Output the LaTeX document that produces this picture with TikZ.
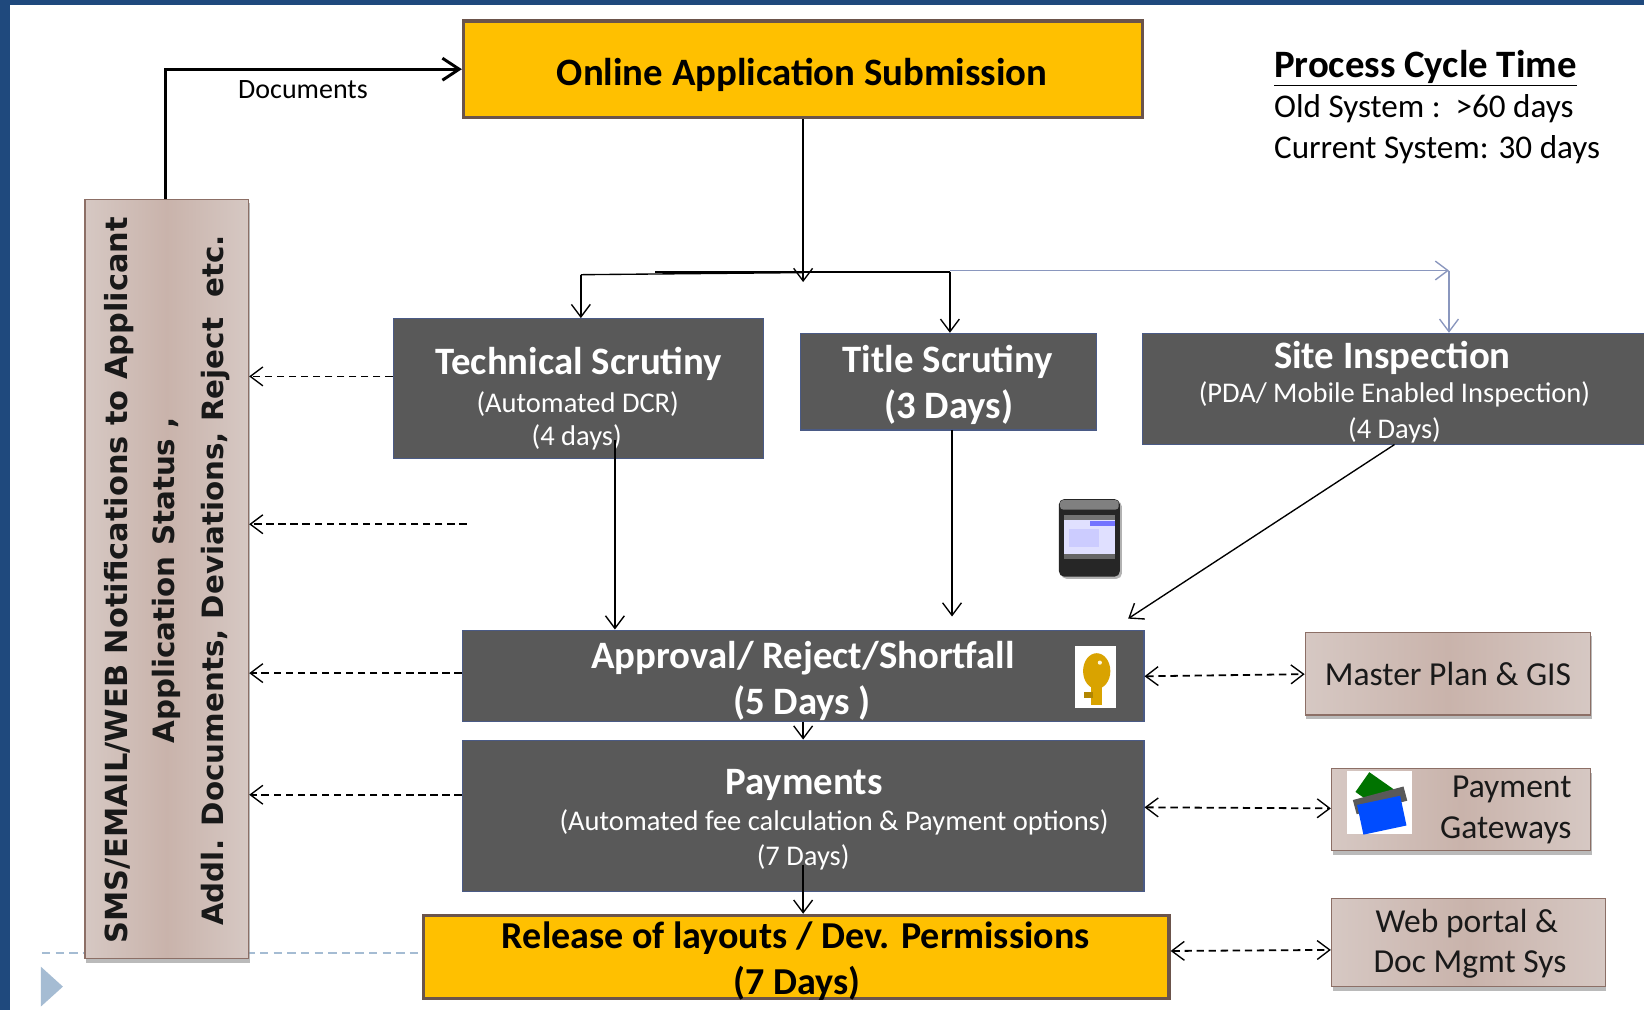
\documentclass[tikz,border=0pt]{standalone}
\usepackage{fontspec}
\setmainfont{Carlito}
\newfontfamily\verd{DejaVu Sans}
\usetikzlibrary{arrows.meta,shadows,calc}
\definecolor{frameblue}{HTML}{1F497D}
\definecolor{gold}{HTML}{FFC000}
\definecolor{goldedge}{HTML}{6B544B}
\definecolor{slate}{HTML}{595959}
\definecolor{slateedge}{HTML}{4A5A85}
\definecolor{tanlight}{HTML}{D6C8C3}
\definecolor{tanmid}{HTML}{C9B3AB}
\definecolor{tanedge}{HTML}{8C6F66}
\definecolor{softblue}{HTML}{8A97BE}
\definecolor{pale}{HTML}{A5BCD3}
\newcommand{\fsz}[1]{\fontsize{#1}{#1}\selectfont}
\tikzset{
  barb/.tip={Straight Barb[length=12pt,width=18pt,line width=1.3pt]},
  goldbox/.style={draw=goldedge,line width=3pt,fill=gold,inner sep=0pt,align=center,text=black},
  slatebox/.style={draw=slateedge,line width=1.2pt,fill=slate,inner sep=0pt,align=center,text=white},
  tanbox/.style={draw=tanedge,line width=1.3pt,left color=tanlight,right color=tanlight,middle color=tanmid,inner sep=0pt,align=center,text=black!90,
     drop shadow={shadow xshift=1pt,shadow yshift=-4pt,fill=black!45,opacity=.6}},
  flow/.style={draw=black,line width=1.3pt,-barb},
  plain/.style={draw=black,line width=1.3pt},
  softflow/.style={draw=softblue,line width=1.5pt,-barb},
  notify/.style={draw=black,line width=1.7pt,dash pattern=on 7pt off 4.5pt,-barb},
  twoway/.style={draw=black,line width=1.7pt,dash pattern=on 7pt off 4.5pt,barb-barb},
  tag/.style={inner sep=0pt,anchor=base west,text=black},
  head/.style={inner sep=0pt,text=white,font=\bfseries\fsz{37}},
  sub/.style={inner sep=0pt,text=white,font=\fsz{27.2}},
  darkhead/.style={inner sep=0pt,text=black,font=\bfseries\fsz{36.3}},
  tantext/.style={inner sep=0pt,text=black!90,font=\fsz{32}},
  side/.style={inner sep=0pt,text=black!90,font=\verd\bfseries\fsz{29},rotate=90,anchor=center},
}
\begin{document}
\begin{tikzpicture}[x=1pt,y=-1pt]
\useasboundingbox (0,0) rectangle (1568,963.3);
% frame
\fill[frameblue] (0,0) rectangle (1568,963.3);
\fill[white] (10,5) rectangle (1568,963.3);
% decorative dashed line and marker
\draw[pale,line width=1.2pt,dash pattern=on 8pt off 5pt] (40,909) -- (404,909);
\fill[pale] (39,922) -- (60,941) -- (39,960) -- cycle;
% boxes
\node[goldbox,minimum width=648pt,minimum height=92pt] (online) at (766,66) {};
\node[inner sep=0pt,text=black,font=\bfseries\fsz{37}] (onlineA) at (765,71) {Online Application Submission};
\node[tanbox,minimum width=156pt,minimum height=724pt] (notices) at (159,552) {};
\node[side] (noticeA) at (114,553.5) {SMS/EMAIL/WEB Notifications to Applicant};
\node[side,font=\verd\bfseries\fsz{28}] (noticeB) at (159,553.5) {Application Status ,};
\node[side,font=\verd\bfseries\fsz{28}] (noticeC) at (206,553.5) {Addl. Documents, Deviations, Reject\ \ etc.};
\node[slatebox,minimum width=353pt,minimum height=133pt] (tech) at (551.5,370.5) {};
\node[head] (techA) at (552,347) {Technical Scrutiny};
\node[sub] (techB) at (551,385) {(Automated DCR)};
\node[sub] (techC) at (550,417) {(4 days)};
\node[slatebox,minimum width=282pt,minimum height=92pt] (title) at (904.5,364) {};
\node[head] (titleA) at (904,345) {Title Scrutiny};
\node[head] (titleB) at (905,388) {(3 Days)};
\node[slatebox,minimum width=480pt,minimum height=106pt,anchor=west] (site) at (1089,371) {};
\node[head] (siteA) at (1328,341) {Site Inspection};
\node[sub] (siteB) at (1330,376) {(PDA/ Mobile Enabled Inspection)};
\node[sub] (siteC) at (1330,410) {(4 Days)};
\node[slatebox,minimum width=650pt,minimum height=87pt] (approval) at (766,644.5) {};
\node[head] (approvalA) at (766,628) {Approval/ Reject/Shortfall};
\node[head] (approvalB) at (765,671) {(5 Days )};
\node[slatebox,minimum width=650pt,minimum height=144pt] (pay) at (766,778) {};
\node[head] (payA) at (767,749) {Payments};
\node[sub] (payB) at (795.5,784) {(Automated fee calculation \& Payment options)};
\node[sub] (payC) at (766,818) {(7 Days)};
\node[goldbox,minimum width=711pt,minimum height=79pt] (release) at (759.5,912.5) {};
\node[darkhead] (releaseA) at (759,895) {Release of layouts / Dev. Permissions};
\node[darkhead] (releaseB) at (760,938) {(7 Days)};
\node[tanbox,minimum width=272pt,minimum height=79pt,font=\fsz{32}] (gis) at (1381,642.5) {Master Plan \& GIS};
\node[tanbox,minimum width=247pt,minimum height=78pt] (gateway) at (1393.5,772) {};
\node[tantext,anchor=east] (gatewayA) at (1499,753) {Payment};
\node[tantext,anchor=east] (gatewayB) at (1499,792) {Gateways};
\node[tanbox,minimum width=261pt,minimum height=84pt] (portal) at (1400.5,899) {};
\node[tantext] (portalA) at (1399,881) {Web portal \&};
\node[tantext] (portalB) at (1402,920) {Doc Mgmt Sys};
% cycle-time text
\node[tag,font=\bfseries\fsz{37}] (cycleA) at (1215,74) {\underline{Process Cycle Time}};
\node[tag,font=\fsz{31.6}] (cycleB) at (1215,112) {Old System :\ \ >60 days};
\node[tag,font=\fsz{31.6}] (cycleC) at (1215,151) {Current System: 30 days};
\node[tag,font=\fsz{26.7}] (docs) at (227,94) {Documents};
% phone
\fill[black!30,rounded corners=5pt] (1012,478) rectangle (1070,552);
\fill[black!85,rounded corners=5pt] (1010,476) rectangle (1068,550);
\fill[black!50,rounded corners=3pt] (1011,477) rectangle (1067,486);
\fill[white!88!blue] (1015,491) rectangle (1063,533);
\fill[blue!55!white] (1040,497) rectangle (1063,502);
\fill[black!55] (1015,491) rectangle (1063,496);
\fill[blue!20!white] (1020,505) rectangle (1048,522);
\fill[black!60] (1015,528) rectangle (1063,533);
% key
\fill[white] (1025,616) rectangle (1064,675);
\fill[gold!85!black] (1046,640) ellipse (13pt and 17pt);
\fill[gold!85!black] (1041,650) rectangle (1051,672);
\fill[gold!70!black] (1034,660) rectangle (1042,666);
\fill[white!85!gold] (1049,632) circle (2pt);
% cards
\fill[white] (1285,735) rectangle (1347,795);
\fill[green!45!black,rotate around={-35:(1315,755)}] (1297,745) rectangle (1333,768);
\fill[black!65,rotate around={15:(1318,766)}] (1292,756) rectangle (1342,770);
\fill[blue!70!cyan,rotate around={12:(1318,778)}] (1297,763) rectangle (1339,792);
% connectors
\coordinate (docsUp) at (158,190);
\draw[draw=black,line width=3pt,-{Straight Barb[length=16pt,width=21pt,line width=2.8pt]}] (docsUp) |- (online.west);
\coordinate (busMid) at (766,269);
\coordinate (busHeavy) at (625,259);
\coordinate (busWest) at (554,262);
\coordinate (busEast) at (906,259);
\coordinate (softEnd) at (1382,258);
\draw[flow] (online.south) -- (busMid);
\draw[plain] (busWest) -- (766,260);
\draw[draw=black,line width=2pt] (busHeavy) -- (busEast);
\draw[flow] (busWest) -- (busWest |- tech.north);
\draw[flow] (busEast) -- (busEast |- title.north);
\draw[softflow] (busEast |- softEnd) -- (softEnd);
\draw[softflow] (softEnd) -- (softEnd |- site.north);
\coordinate (techOut) at (586.5,420);
\coordinate (titleOut) at (908,410);
\coordinate (siteOut) at (1330,424);
\coordinate (approvalInA) at (1076,590);
\coordinate (titleEnd) at (908,588);
\coordinate (payOut) at (766,825);
\draw[flow] (techOut) -- (techOut |- approval.north);
\draw[flow] (titleOut) -- (titleEnd);
\draw[flow] (siteOut) -- (approvalInA);
\draw[flow] (approval.south) -- (pay.north);
\draw[flow] (payOut) -- (payOut |- release.north);
\coordinate (freeDash) at (445,500);
\draw[notify] (tech.west |- 0,359) -- (notices.east |- 0,359);
\draw[notify] (freeDash) -- (notices.east |- freeDash);
\draw[notify] (approval.west |- 0,642) -- (notices.east |- 0,642);
\draw[notify] (pay.west |- 0,758) -- (notices.east |- 0,758);
\draw[twoway] (approval.east |- 0,645) -- (gis.west |- 0,643);
\draw[twoway] (pay.east |- 0,770) -- (gateway.west |- 0,771);
\draw[twoway] (release.east |- 0,907) -- (portal.west |- 0,906);
\end{tikzpicture}
\end{document}
